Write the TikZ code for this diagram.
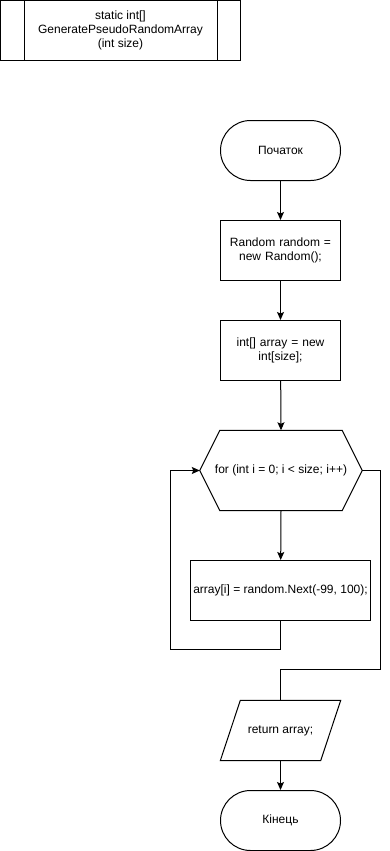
\documentclass[tikz,border=0pt]{standalone}
\usepackage{fontspec}
\setmainfont{Liberation Sans}
\usetikzlibrary{arrows.meta}

\tikzset{
  box/.style={draw, line width=1pt, minimum width=120pt, minimum height=60pt,
    align=center, inner sep=2pt},
  terminal/.style={box, rounded corners=30pt},
  plain/.style={minimum width=#1, minimum height=60pt, align=center, inner sep=0pt},
  line/.style={line width=1pt},
  flow/.style={line, -{Stealth[length=8pt, width=7pt, inset=1.5pt]}}
}

\begin{document}
\begin{tikzpicture}[x=1pt, y=1pt, every node/.style={font=\fontsize{12}{14}\selectfont}]
  \useasboundingbox (0,0) rectangle (389,-851);

  % Method header (predefined process)
  \node[box, minimum width=240pt] (title) at (120.5,-30.5)
    {static int[]\\GeneratePseudoRandomArray\\(int size)};
  \draw[line] ([xshift=24pt]title.north west) -- ([xshift=24pt]title.south west);
  \draw[line] ([xshift=-24pt]title.north east) -- ([xshift=-24pt]title.south east);

  % Flow blocks
  \node[terminal] (start) at (280.5,-150.5) {Початок};
  \node[box, text width=112pt] (rnd) at (280.5,-250.5) {Random random =\\new Random();};
  \node[box, text width=112pt] (arr) at (280.5,-350.5) {int[] array = new\\int[size];};

  % Loop header (hexagon)
  \node[plain=162pt, minimum height=80pt] (loop) at (281,-470.5) {for (int i = 0; i < size; i++)};
  \draw[line] ([xshift=20pt]loop.north west) -- ([xshift=-20pt]loop.north east)
    -- (loop.east) -- ([xshift=-20pt]loop.south east)
    -- ([xshift=20pt]loop.south west) -- (loop.west) -- cycle;

  \node[box, minimum width=180pt] (body) at (280.5,-590.5) {array[i] = random.Next(-99, 100);};

  % Output (parallelogram)
  \node[plain=120pt] (ret) at (280.5,-730.5) {return array;};
  \draw[line] ([xshift=20pt]ret.north west) -- (ret.north east)
    -- ([xshift=-20pt]ret.south east) -- (ret.south west) -- cycle;

  \node[terminal] (stop) at (280.5,-820.5) {Кінець};

  % Connectors
  \coordinate (back) at (170.5,-649.5);
  \coordinate (exit) at (380.5,-669.5);
  \draw[flow] (start) -- (rnd);
  \draw[flow] (rnd) -- (arr);
  \draw[flow] (arr) -- (loop.north);
  \draw[flow] (loop.south) -- (body);
  \draw[flow] (body.south) |- (back) |- (loop.west);
  \draw[line] (loop.east) -| (exit) -| (ret.north);
  \draw[flow] (ret.south) -- (stop);
\end{tikzpicture}
\end{document}
